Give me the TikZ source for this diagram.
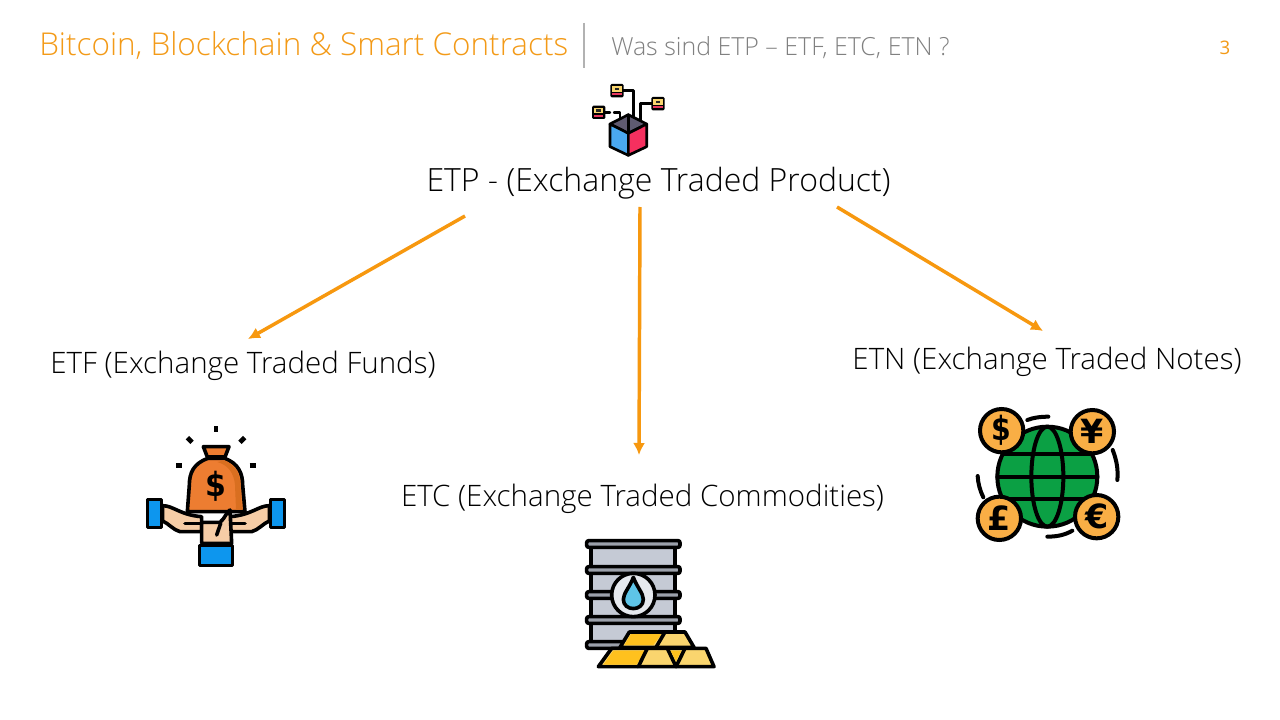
\documentclass[tikz,border=0pt]{standalone}
\usepackage{fontspec}
\setmainfont{Open Sans Light}
\newfontfamily\regfont{Open Sans}
\newfontfamily\symfont{DejaVu Sans}[BoldFont={DejaVu Sans Bold}]
\definecolor{orangeT}{HTML}{F39A17}
\definecolor{grayT}{HTML}{808080}
\definecolor{lineO}{HTML}{F7980F}
\definecolor{bagO}{HTML}{ED7D31}
\definecolor{bagD}{HTML}{D96F20}
\definecolor{peach}{HTML}{F6CDA6}
\definecolor{blueC}{HTML}{0D96EE}
\definecolor{coin}{HTML}{F9AE45}
\definecolor{globeG}{HTML}{0BA044}
\definecolor{cardY}{HTML}{F9D56E}
\definecolor{cardR}{HTML}{E8385F}
\definecolor{cubeB}{HTML}{4AA8F0}
\definecolor{cubeR}{HTML}{F5305F}
\definecolor{cubeT}{HTML}{5F5A70}
\definecolor{barrel}{HTML}{C5CAD5}
\definecolor{band}{HTML}{9BA0AA}
\definecolor{disc}{HTML}{E6E9EE}
\definecolor{dropB}{HTML}{5EC5E8}
\definecolor{goldD}{HTML}{FFC11E}
\definecolor{goldL}{HTML}{FAD56E}
\usetikzlibrary{arrows.meta}
\tikzset{
  lbl/.style={inner sep=0pt,font=\fontsize{22.15}{26}\selectfont,text=black},
  arrowO/.style={draw=lineO,line width=2.6pt,-{Latex[length=9pt,width=9pt]}},
  ink/.style={draw=black,line width=2.7pt,line join=round,line cap=round},
  inkthin/.style={draw=black,line width=1.8pt,line join=round,line cap=round},
  zoomed/.style={x=.25pt,y=-.25pt},
  coinst/.style={draw=black,line width=3pt,fill=coin},
  sym/.style={inner sep=0pt,font=\symfont\bfseries\fontsize{25}{25}\selectfont},
}
\newcommand{\card}[2]{%
  \begin{scope}[shift={(#1,#2)}]
    \fill[black,rounded corners=1pt] (-1,-1) rectangle (39,39);
    \fill[cardY] (5,5) rectangle (33,22);
    \fill[black!85] (12,10) rectangle (26,17);
    \fill[cardR] (5,26) rectangle (33,33);
  \end{scope}}
\begin{document}
\begin{tikzpicture}[x=.75pt,y=-.75pt]
\useasboundingbox (0,0) rectangle (1280,720);
\fill[white] (0,0) rectangle (1280,720);
\node[anchor=base west,inner sep=0pt,text=orangeT,font=\fontsize{23.6}{26}\selectfont] (title) at (39,56) {Bitcoin, Blockchain \& Smart Contracts};
\node[anchor=base west,inner sep=0pt,text=grayT,font=\fontsize{18.7}{20}\selectfont] (sub) at (611,56) {Was sind ETP – ETF, ETC, ETN ?};
\node[anchor=base,inner sep=0pt,text=orangeT,font=\regfont\fontsize{14}{16}\selectfont] (page) at (1225,55) {3};
\coordinate (sepA) at (584,23); \coordinate (sepB) at (584,68);
\draw[draw=black!30,line width=.9pt] (sepA) -- (sepB);

\node[lbl,anchor=base,font=\fontsize{24}{26}\selectfont] (etp) at (658.5,192) {ETP - (Exchange Traded Product)};
\node[lbl,anchor=base] (etf) at (243,373) {ETF (Exchange Traded Funds)};
\node[lbl,anchor=base] (etc) at (642.5,506) {ETC (Exchange Traded Commodities)};
\node[lbl,anchor=base] (etn) at (1047,369) {ETN (Exchange Traded Notes)};

\draw[arrowO] ([shift={(-193.5,24)}]etp.base) -- ([shift={(5,-34)}]etf.base);
\draw[arrowO] ([shift={(-18.5,15)}]etp.base) -- ([shift={(-3.5,-51)}]etc.base);
\draw[arrowO] ([shift={(178.5,15)}]etp.base) -- ([shift={(-4,-38)}]etn.base);

% ETP icon
\begin{scope}[shift={(570,70)},zoomed]
  \card{122}{43}\card{245}{82}\card{67}{108}
  \draw[inkthin] (160,62) -- (190,62) -- (190,150);
  \draw[inkthin] (245,100) -- (212,100) -- (212,150);
  \draw[inkthin] (105,127) -- (120,127);
  \draw[inkthin] (132,127) -- (150,127) -- (150,150);
  \begin{scope}[ink/.append style={line width=2pt}]
  \filldraw[ink,fill=cubeT] (120,162) -- (175,134) -- (230,162) -- (175,190) -- cycle;
  \filldraw[ink,fill=cubeB] (120,162) -- (175,190) -- (175,256) -- (120,230) -- cycle;
  \filldraw[ink,fill=cubeR] (230,162) -- (175,190) -- (175,256) -- (230,230) -- cycle;
  \draw[inkthin] (175,134) -- (175,190);
  \end{scope}
\end{scope}

% ETF icon
\begin{scope}[shift={(130,415)},zoomed]
  \foreach \a/\b/\c/\d in {258/33/258/52,172/68/186/82,344/68/330/82,138/152/157/152,359/152/378/152}
    \draw[black,line width=3.6pt] (\a,\b) -- (\c,\d);
  \filldraw[ink,fill=bagO] (234,130) .. controls (190,145) and (178,175) .. (178,210) -- (172,290) -- (345,290) -- (338,210) .. controls (338,175) and (325,145) .. (284,130) -- cycle;
  \fill[bagD] (284,136) .. controls (315,150) and (331,175) .. (331,215) -- (336,284) -- (318,284) -- (315,210) .. controls (312,175) and (295,150) .. (262,141) -- cycle;
  \filldraw[ink,fill=bagO] (220,95) -- (297,95) -- (285,126) -- (232,126) -- cycle;
  \node[sym,font=\symfont\bfseries\fontsize{25}{25}\selectfont,xscale=.9] (dollarbag) at (258,215) {\$};
  % hands
  \filldraw[ink,fill=peach] (98,272) .. controls (130,272) and (150,300) .. (215,305) -- (215,350) -- (150,350) .. controls (130,345) and (115,325) .. (98,318) -- cycle;
  \filldraw[ink,fill=peach] (418,272) .. controls (385,272) and (365,300) .. (300,305) -- (300,350) -- (365,350) .. controls (385,345) and (400,325) .. (418,318) -- cycle;
  \filldraw[ink,fill=peach] (215,322) -- (270,322) .. controls (285,310) and (290,290) .. (300,285) -- (305,385) -- (215,385) -- cycle;
  \draw[ink] (165,325) -- (212,325) (302,325) -- (345,325);
  \draw[ink] (272,325) -- (260,360);
  \filldraw[ink,fill=blueC] (52,254) rectangle (94,338);
  \filldraw[ink,fill=blueC] (422,254) rectangle (464,338);
  \filldraw[ink,fill=blueC] (208,392) rectangle (308,452);
\end{scope}

% ETC icon
\begin{scope}[shift={(570,530)},zoomed]
  \filldraw[ink,fill=barrel] (63,42) rectangle (315,350);
  \foreach \y in {32,110,185,260}
    \filldraw[ink,fill=band,rounded corners=1.5pt] (50,\y) rectangle (330,\y+20);
  \filldraw[ink,fill=band,rounded corners=1.5pt] (50,335) rectangle (200,355);
  \filldraw[ink,fill=disc] (190,195) circle (65);
  \filldraw[ink,fill=dropB] (190,142) .. controls (180,170) and (160,190) .. (160,208) .. controls (160,245) and (220,245) .. (220,208) .. controls (220,190) and (200,170) .. (190,142) -- cycle;
  \filldraw[ink,fill=goldL] (150,352) -- (178,306) -- (345,306) -- (372,352) -- cycle;
  \fill[goldD] (163,345) -- (183,312) -- (275,312) -- (250,345) -- cycle;
  \draw[ink] (285,306) -- (258,352);
  \filldraw[ink,fill=goldL] (85,410) -- (125,355) -- (408,355) -- (432,410) -- cycle;
  \fill[goldD] (100,404) -- (130,362) -- (225,362) -- (200,404) -- cycle;
  \draw[ink] (232,355) -- (205,410);
  \draw[ink] (345,355) -- (318,410) -- (292,355);
  \fill[goldD] (302,362) -- (334,362) -- (318,394) -- cycle;
\end{scope}

% ETN icon
\begin{scope}[shift={(960,400)},zoomed,ink/.append style={line width=3pt}]
  \filldraw[ink,fill=globeG] (262,230) circle (150);
  \draw[ink] (262,230) ellipse (48 and 150);
  \draw[ink] (112,230) -- (412,230);
  \draw[ink] (128,163) -- (396,163);
  \draw[ink] (128,297) -- (396,297);
  \draw[ink] (202,60) .. controls (222,52) and (245,50) .. (265,50);
  \draw[ink] (458,150) .. controls (470,180) and (475,210) .. (472,240);
  \draw[ink] (53,228) .. controls (54,250) and (60,272) .. (70,292);
  \draw[ink] (262,410) .. controls (290,410) and (315,405) .. (337,392);
  \filldraw[coinst] (125,92) circle (65);
  \filldraw[coinst] (397,95) circle (65);
  \filldraw[coinst] (118,355) circle (65);
  \filldraw[coinst] (410,350) circle (65);
  \node[sym,xscale=.85] (usd) at (125,92) {\$};
  \node[sym] (yen) at (397,95) {¥};
  \node[sym] (gbp) at (118,355) {£};
  \node[sym] (eur) at (410,350) {€};
\end{scope}
\end{tikzpicture}
\end{document}
